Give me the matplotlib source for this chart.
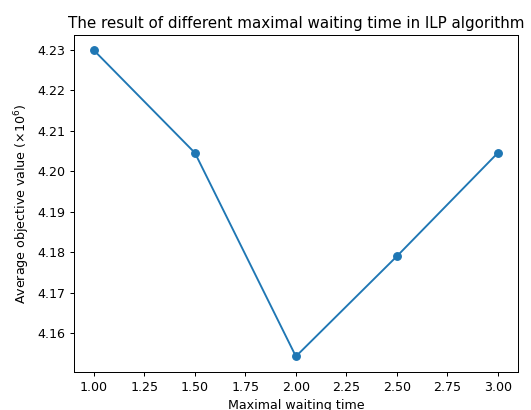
import numpy as np
import matplotlib
matplotlib.use("Agg")
import matplotlib.pyplot as plt

# Datos
tiempo_espera = [1.0, 1.5, 2.0, 2.5, 3.0]
valor_objetivo = [4.2298, 4.2045, 4.1543, 4.1790, 4.2045]

# La imagen original parece estar algo reducida, por eso el dpi es menor
dpi = 91
fig = plt.figure(figsize=(531 / dpi, 410 / dpi), dpi=dpi)
ax = fig.add_axes([0.139, 0.0934, 0.8365, 0.821])
ax.plot(tiempo_espera, valor_objetivo, marker="o")

ax.set_title("The result of different maximal waiting time in ILP algorithm")
ax.set_xlabel("Maximal waiting time")
ax.set_ylabel(r"Average objective value ($\times10^6$)")

fig.savefig("out.png", dpi=dpi)
